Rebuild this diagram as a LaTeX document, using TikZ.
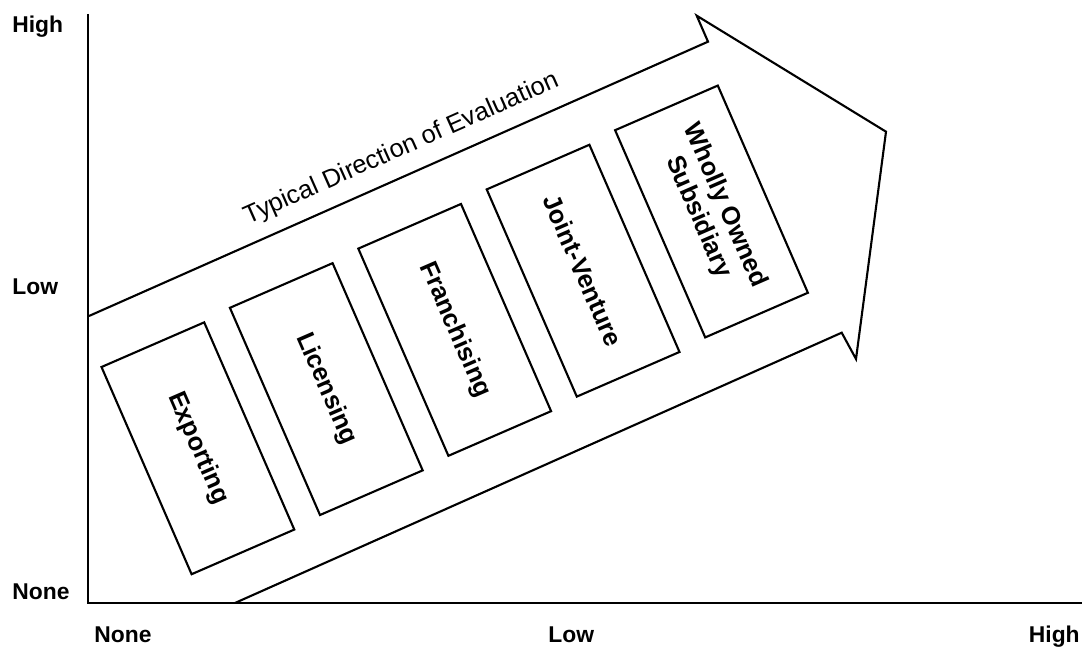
\documentclass[tikz,border=0pt]{standalone}
\usepackage{fontspec}
\setmainfont{Liberation Sans}
\tikzset{
  outline/.style={
    line width=1.2pt,
    line join=miter,
    draw=black
  },
  mode-box/.style={
    outline,
    rectangle,
    minimum width=4.52cm,
    minimum height=2.24cm,
    inner sep=0pt,
    rotate=-66.5,
    align=center,
    font=\fontsize{14.5}{16.5}\selectfont\bfseries
  },
  axis-label/.style={inner sep=0pt, font=\fontsize{13}{15}\selectfont\bfseries},
  arrow-label/.style={inner sep=0pt, rotate=23.9, font=\fontsize{14.5}{17}\selectfont}
}
\newcommand{\plotframe}{
  \useasboundingbox (0,0) rectangle (1082,651);
  \draw[outline] (88,637) -- (88,48) -- (1082,48);
}

\begin{document}
\begin{tikzpicture}[x=0.02cm,y=0.02cm]
  \plotframe

  % axis labels
  \foreach \y/\txt in {618/High,356/Low,51/None}{
    \node[axis-label, anchor=base west] (ylab-\txt) at (12,\y) {\txt};
  }
  \node[axis-label, anchor=base west] (xlab-None) at (94,8) {None};
  \node[axis-label, anchor=base west] (xlab-Low) at (548,8) {Low};
  \node[axis-label, anchor=base east] (xlab-High) at (1080,8) {High};

  % big arrow, left side closed by the axes
  \draw[outline] (89,335) -- (708,609.3) -- (696.7,635.3) -- (886,519.3)
    -- (856,292) -- (841.7,318.3) -- (235,48);
  \node[arrow-label] (direction) at (401.5,502) {Typical Direction of Evaluation};

  % entry modes, one step of (128.4,59.2) apart
  \foreach \name/\txt [count=\i from 0] in {export/Exporting,licence/Licensing,
      franchise/Franchising,joint/Joint-Venture,subsidiary/{Wholly Owned\\Subsidiary}}{
    \node[mode-box] (\name) at ({197.9+128.4*\i},{202.7+59.2*\i}) {\txt};
  }
\end{tikzpicture}
\end{document}
